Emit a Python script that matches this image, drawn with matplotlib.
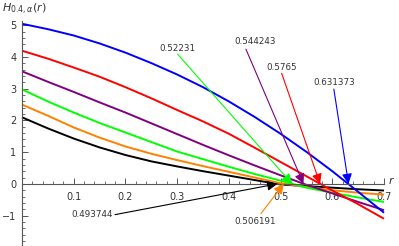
import matplotlib
matplotlib.use("Agg")
import matplotlib.pyplot as plt
from matplotlib.ticker import MultipleLocator

# ---- data ----
r_vals = [0.0, 0.05, 0.10, 0.15, 0.20, 0.25, 0.30, 0.35, 0.40, 0.45, 0.50, 0.55, 0.60, 0.65, 0.70]

h_blue   = [5.05, 4.88, 4.68, 4.43, 4.14, 3.81, 3.45, 3.05, 2.60, 2.11, 1.58, 1.01, 0.40, -0.25, -0.91]
h_red    = [4.20, 3.95, 3.67, 3.38, 3.05, 2.70, 2.33, 1.97, 1.58, 1.14, 0.69, 0.24, -0.21, -0.64, -1.10]
h_purple = [3.55, 3.22, 2.90, 2.57, 2.25, 1.91, 1.57, 1.23, 0.90, 0.58, 0.27, -0.03, -0.30, -0.57, -0.83]
h_green  = [2.98, 2.60, 2.25, 1.92, 1.62, 1.32, 1.02, 0.78, 0.54, 0.31, 0.10, -0.12, -0.28, -0.43, -0.57]
h_orange = [2.50, 2.15, 1.78, 1.46, 1.18, 0.95, 0.75, 0.56, 0.38, 0.20, 0.02, -0.10, -0.20, -0.28, -0.34]
h_black  = [2.10, 1.75, 1.43, 1.15, 0.91, 0.71, 0.55, 0.40, 0.26, 0.12, -0.02, -0.07, -0.12, -0.17, -0.21]

series = [h_black, h_orange, h_green, h_purple, h_red, h_blue]
colors = ["black", (1.0, 0.5, 0.0), (0.0, 1.0, 0.0), (0.5, 0.0, 0.5), (1.0, 0.0, 0.0), (0.0, 0.0, 1.0)]

roots = [0.493744, 0.506191, 0.52231, 0.544243, 0.5765, 0.631373]
root_labels = ["0.493744", "0.506191", "0.52231", "0.544243", "0.5765", "0.631373"]
# arrow tails (label anchor points) in data coordinates
tails = [(0.180, -0.97), (0.462, -0.94), (0.301, 4.09), (0.433, 4.25), (0.502, 3.49), (0.603, 2.99)]

xticks = [0.1, 0.2, 0.3, 0.4, 0.5, 0.6, 0.7]
xticklabels = ["0.1", "0.2", "0.3", "0.4", "0.5", "0.6", "0.7"]
yticks = [-1, 0, 1, 2, 3, 4, 5]
yticklabels = ["\u22121", "0", "1", "2", "3", "4", "5"]

# ---- figure ----
W, H = 399, 246
fig = plt.figure(figsize=(W / 100, H / 100), dpi=100)
x0, x1 = 22, 384
y_top, y_bot = 20.6, 246
ax = fig.add_axes([x0 / W, 0, (x1 - x0) / W, (y_bot - y_top) / H])
ax.set_xlim(0, 0.70)
ax.set_ylim(-1.96, 5.15)
ax.patch.set_alpha(0)

axcol = "#555555"
for s in ["top", "right"]:
    ax.spines[s].set_visible(False)
ax.spines["left"].set_position(("data", 0))
ax.spines["bottom"].set_position(("data", 0))
for s in ["left", "bottom"]:
    ax.spines[s].set_color(axcol)
    ax.spines[s].set_linewidth(0.8)

ax.set_xticks(xticks)
ax.set_xticklabels(xticklabels)
ax.set_yticks(yticks)
ax.set_yticklabels(yticklabels)
ax.xaxis.set_minor_locator(MultipleLocator(0.02))
ax.yaxis.set_minor_locator(MultipleLocator(0.2))
ax.tick_params(axis="both", which="major", direction="in", length=4, width=0.7,
               color=axcol, labelsize=7, labelcolor="#333333")
ax.tick_params(axis="both", which="minor", direction="in", length=2.2, width=0.6, color=axcol)
ax.tick_params(axis="x", which="major", pad=6)
ax.tick_params(axis="y", which="major", pad=4)

for ys, c in zip(series, colors):
    ax.plot(r_vals, ys, color=c, lw=1.4, solid_capstyle="butt", solid_joinstyle="round",
            zorder=2, clip_on=False)

for rt, lab, (tx, ty), c in zip(roots, root_labels, tails, colors):
    ax.annotate("", xy=(rt, 0), xytext=(tx, ty),
                arrowprops=dict(arrowstyle="-|>,head_length=0.6,head_width=0.3", color=c, lw=0.8,
                                mutation_scale=10, shrinkA=0, shrinkB=0),
                zorder=3)

# labels
lab_off = {0: (-0.045, 0.0), 1: (-0.011, -0.25), 2: (0.0, 0.19), 3: (0.018, 0.23),
           4: (0.0, 0.19), 5: (0.0, 0.22)}
for i, (lab, (tx, ty)) in enumerate(zip(root_labels, tails)):
    dx, dy = lab_off[i]
    ax.text(tx + dx, ty + dy, lab, fontsize=6.3, color="#333333",
            ha="center", va="center", zorder=4)

fig.text(388 / W, 1 - 180 / H, "$r$", fontsize=8, color="#333333", ha="left", va="center")
fig.text(2 / W, 1 - 9 / H, r"$H_{0.4,\alpha}(r)$", fontsize=8, color="#333333",
         ha="left", va="center")

fig.savefig("out.png", dpi=100)
